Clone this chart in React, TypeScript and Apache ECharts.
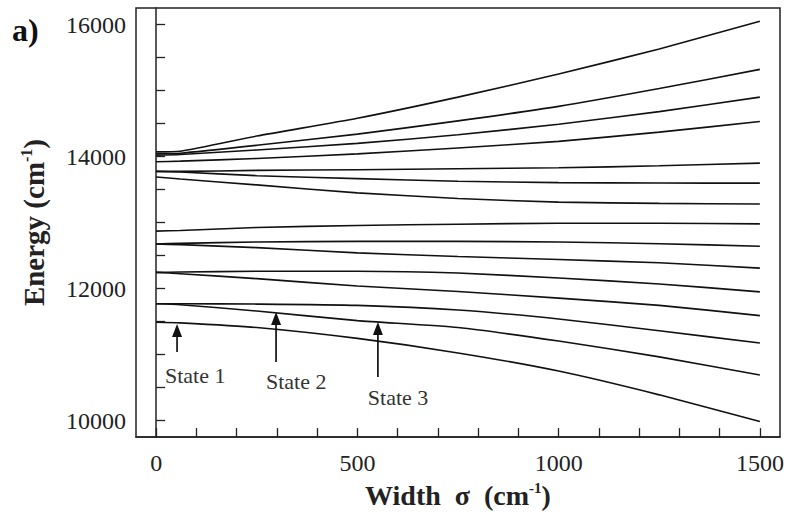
import React, { useEffect, useRef } from "react";
import * as echarts from "echarts";

// Width sigma (cm^-1) sample positions
const sigma = [0, 60, 250, 500, 750, 1000, 1250, 1500];

// Energy levels (cm^-1), top to bottom
const levelA = [14070, 14080, 14310, 14580, 14900, 15250, 15630, 16050];
const levelB = [14040, 14050, 14170, 14340, 14540, 14760, 15030, 15320];
const levelC = [14020, 14030, 14100, 14200, 14330, 14490, 14680, 14900];
const levelD = [13920, 13930, 13970, 14040, 14130, 14230, 14370, 14530];
const levelE = [13775, 13775, 13790, 13800, 13815, 13830, 13860, 13900];
const levelF = [13775, 13765, 13710, 13665, 13625, 13605, 13598, 13597];
const levelG = [13690, 13660, 13570, 13450, 13365, 13310, 13290, 13280];
const levelH = [12870, 12880, 12925, 12955, 12975, 12990, 12990, 12980];
const levelI = [12675, 12685, 12705, 12715, 12715, 12705, 12680, 12640];
const levelJ = [12675, 12665, 12620, 12540, 12485, 12440, 12390, 12310];
const levelK = [12245, 12250, 12262, 12262, 12235, 12160, 12070, 11950];
const levelL = [12245, 12225, 12150, 12040, 11955, 11855, 11745, 11590];
const levelM = [11770, 11770, 11765, 11745, 11675, 11540, 11360, 11175];
const levelN = [11770, 11755, 11660, 11515, 11410, 11205, 10965, 10690];
const levelO = [11490, 11480, 11410, 11245, 11025, 10750, 10390, 9985];

const levels = [
  levelA, levelB, levelC, levelD, levelE, levelF, levelG, levelH,
  levelI, levelJ, levelK, levelL, levelM, levelN, levelO,
];

// Axis ticks
const xTicks = [0, 100, 200, 300, 400, 500, 600, 700, 800, 900, 1000, 1100, 1200, 1300, 1400, 1500];
const xLabels = [0, 500, 1000, 1500];
const yTicks = [10000, 10500, 11000, 11500, 12000, 12500, 13000, 13500, 14000, 14500, 15000, 15500, 16000];
const yLabels = [10000, 12000, 14000, 16000];

// Annotations (data coordinates)
const stateNames = ["State 1", "State 2", "State 3"];
const arrowSigma = [52, 298, 551];
const arrowTipE = [11464, 11645, 11494];
const arrowTailE = [11040, 10889, 10662];
const labelSigma = [97, 348, 601];
const labelE = [10677, 10586, 10344];

const SERIF = "Liberation Serif";

export default function App() {
  const ref = useRef<HTMLDivElement>(null);

  useEffect(() => {
    if (!ref.current) return;
    const chart = echarts.init(ref.current, null, { renderer: "svg" });

    const series = levels.map((lv, i) => ({
      type: "line",
      name: "level" + i,
      data: sigma.map((s, j) => [s, lv[j]]),
      showSymbol: false,
      symbol: "none",
      lineStyle: { color: "#111", width: 1.6 },
      smooth: 0.2,
      silent: true,
    }));

    chart.setOption({
      animation: false,
      backgroundColor: "#fff",
      grid: {
        left: 136,
        top: 8,
        right: 7,
        bottom: 76,
        show: true,
        borderColor: "#222",
        borderWidth: 1.5,
        backgroundColor: "transparent",
      },
      xAxis: {
        type: "value",
        min: -50,
        max: 1550,
        axisLine: { show: true, lineStyle: { color: "#222", width: 1.5 } },
        axisTick: {
          show: true,
          inside: true,
          length: 9,
          customValues: xTicks,
          lineStyle: { color: "#222", width: 1.3 },
        },
        axisLabel: {
          customValues: xLabels,
          formatter: (v: number) => String(v),
          fontFamily: SERIF,
          fontSize: 24,
          color: "#222",
          margin: 14,
        },
        splitLine: { show: false },
        name: "{b|Width  σ  (cm}{s|-1}{b|)}",
        nameLocation: "middle",
        nameGap: 40,
        nameTextStyle: {
          rich: {
            b: { fontFamily: SERIF, fontSize: 28, fontWeight: "bold", color: "#222", lineHeight: 30 },
            s: { fontFamily: SERIF, fontSize: 15, fontWeight: "bold", color: "#222", verticalAlign: "top", lineHeight: 14 },
          },
        },
      },
      yAxis: {
        type: "value",
        min: 9750,
        max: 16250,
        axisLine: { show: true, lineStyle: { color: "#222", width: 1.5 } },
        axisTick: {
          show: true,
          inside: true,
          length: 9,
          customValues: yTicks,
          lineStyle: { color: "#222", width: 1.3 },
        },
        axisLabel: {
          customValues: yLabels,
          formatter: (v: number) => String(v),
          fontFamily: SERIF,
          fontSize: 24,
          color: "#222",
          margin: 10,
        },
        splitLine: { show: false },
        name: "{b|Energy (cm}{s|-1}{b|)}",
        nameLocation: "middle",
        nameRotate: 90,
        nameGap: 86,
        nameTextStyle: {
          rich: {
            b: { fontFamily: SERIF, fontSize: 29, fontWeight: "bold", color: "#222", lineHeight: 32 },
            s: { fontFamily: SERIF, fontSize: 16, fontWeight: "bold", color: "#222", verticalAlign: "top", lineHeight: 16 },
          },
        },
      },
      series,
    });

    const graphics: any[] = [
      {
        type: "text",
        left: 12,
        top: 14,
        style: {
          text: "a)",
          fontFamily: SERIF,
          fontSize: 32,
          fontWeight: "bold",
          fill: "#111",
        },
      },
    ];
    for (let i = 0; i < stateNames.length; i++) {
      const tip = chart.convertToPixel({ gridIndex: 0 }, [arrowSigma[i], arrowTipE[i]]) as number[];
      const tail = chart.convertToPixel({ gridIndex: 0 }, [arrowSigma[i], arrowTailE[i]]) as number[];
      const lab = chart.convertToPixel({ gridIndex: 0 }, [labelSigma[i], labelE[i]]) as number[];
      graphics.push({
        type: "line",
        shape: { x1: tail[0], y1: tail[1], x2: tip[0], y2: tip[1] + 10 },
        style: { stroke: "#111", lineWidth: 1.7 },
      });
      graphics.push({
        type: "polygon",
        shape: {
          points: [
            [tip[0] - 5, tip[1] + 13],
            [tip[0] + 5, tip[1] + 13],
            [tip[0], tip[1]],
          ],
        },
        style: { fill: "#111" },
      });
      graphics.push({
        type: "text",
        x: lab[0],
        y: lab[1],
        style: {
          text: stateNames[i],
          fontFamily: SERIF,
          fontSize: 22,
          fill: "#333",
          textAlign: "center",
          textVerticalAlign: "middle",
        },
      });
    }
    chart.setOption({ graphic: graphics });

    return () => chart.dispose();
  }, []);

  return (
    <div
      ref={ref}
      style={{ position: "fixed", left: 0, top: 0, width: 787, height: 514, background: "#fff" }}
    />
  );
}
